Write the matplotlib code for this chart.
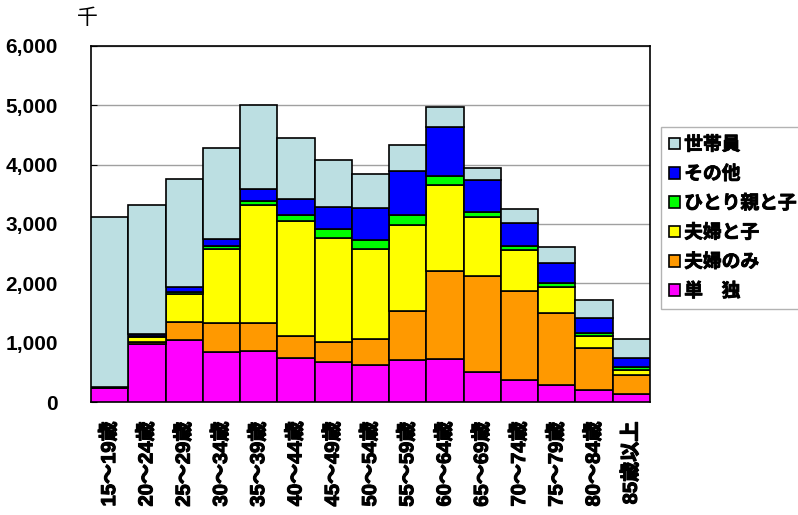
import numpy as np
import matplotlib
matplotlib.use("Agg")
import matplotlib.pyplot as plt
import matplotlib.patheffects as pe

plt.rcParams['font.family'] = ['Liberation Sans', 'Noto Sans CJK JP']

# age groups (thousands of people by household type)
ages = ['15～19歳', '20～24歳', '25～29歳', '30～34歳', '35～39歳', '40～44歳',
        '45～49歳', '50～54歳', '55～59歳', '60～64歳', '65～69歳', '70～74歳',
        '75～79歳', '80～84歳', '85歳以上']

single = [230, 971, 1038, 847, 853, 735, 668, 617, 701, 724, 500, 370, 292, 202, 140]
couple_only = [10, 44, 314, 483, 477, 382, 337, 449, 831, 1481, 1621, 1504, 1212, 713, 315]
couple_child = [5, 74, 471, 1257, 1986, 1930, 1767, 1510, 1459, 1448, 999, 685, 426, 202, 84]
single_parent = [5, 22, 34, 50, 79, 101, 146, 151, 169, 157, 90, 67, 68, 50, 45]
other = [10, 39, 84, 118, 196, 275, 376, 550, 734, 820, 527, 399, 342, 247, 151]
member = [2866, 2178, 1819, 1521, 1415, 1027, 780, 573, 444, 336, 214, 230, 264, 297, 331]

series = [
    ('単　独', single, '#FF00FF'),
    ('夫婦のみ', couple_only, '#FF9900'),
    ('夫婦と子', couple_child, '#FFFF00'),
    ('ひとり親と子', single_parent, '#00FF00'),
    ('その他', other, '#0000FF'),
    ('世帯員', member, '#BCDFE2'),
]

fig = plt.figure(figsize=(7.98, 5.15), dpi=100)
ax = fig.add_axes([0.114, 0.2194, 0.7005, 0.6913])

x = np.arange(len(ages))
bottom = np.zeros(len(ages))
handles = []
for name, vals, col in series:
    b = ax.bar(x, vals, width=1.0, bottom=bottom, color=col, edgecolor='black',
               linewidth=1.2, label=name, zorder=3)
    handles.append(b)
    bottom += np.array(vals)

ax.set_xlim(-0.5, len(ages) - 0.5)
ax.set_ylim(0, 6000)
ax.set_yticks(range(0, 6001, 1000))
ax.set_yticklabels([f'{v:,}' for v in range(0, 6001, 1000)],
                   fontsize=15, fontweight='bold')
ax.yaxis.grid(True, color='#A0A0A0', linewidth=1, zorder=0)
ax.tick_params(axis='y', direction='in', length=4, pad=24)
ax.set_xticks(x)
ax.set_xticklabels(ages, rotation=90, fontsize=14.5, fontweight='bold', va='top')
for t in ax.get_xticklabels():
    t.set_path_effects([pe.withStroke(linewidth=0.8, foreground='black')])
ax.tick_params(axis='x', length=0, pad=14)
for s in ax.spines.values():
    s.set_color('black')
    s.set_linewidth(1.2)

fig.text(0.110, 0.965, '千', fontsize=15, ha='center', va='center',
         family=['Noto Sans CJK JP'])

leg = fig.legend(handles[::-1], [s[0] for s in series][::-1],
                 loc='upper left', bbox_to_anchor=(0.828, 0.754),
                 prop={'size': 13.5, 'weight': 'bold', 'family': ['Noto Sans CJK JP']},
                 handlelength=0.6, handleheight=0.6, handletextpad=0.2,
                 labelspacing=0.55, borderpad=0.45, borderaxespad=0,
                 frameon=True, fancybox=False, edgecolor='#A0A0A0')
for t in leg.get_texts():
    t.set_path_effects([pe.withStroke(linewidth=0.6, foreground='black')])

fig.savefig('out.png', dpi=100)
